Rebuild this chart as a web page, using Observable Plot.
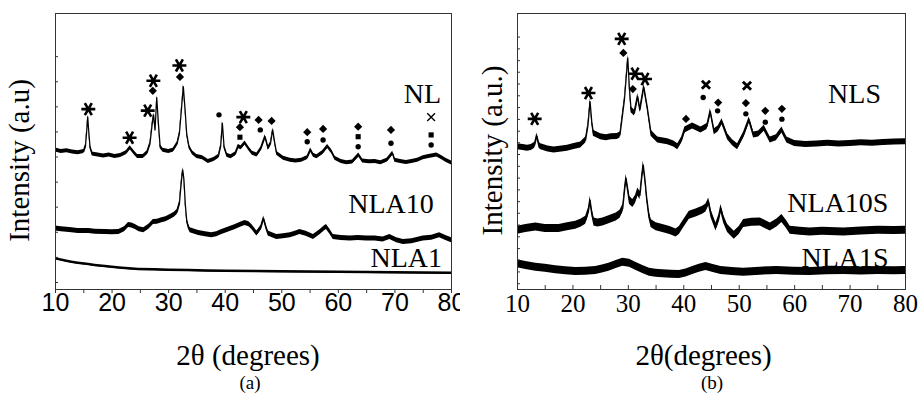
<!DOCTYPE html>
<html><head><meta charset="utf-8">
<script src="https://cdn.jsdelivr.net/npm/d3@7"></script>
<script src="https://cdn.jsdelivr.net/npm/@observablehq/plot@0.6"></script>
<style>
html,body{margin:0;padding:0;background:#fff;}
#wrap{display:flex;width:920px;height:394px;overflow:hidden;}
.panel{width:460px;height:394px;}
.panel svg{display:block;}
.cap{font-family:"Liberation Serif","Times New Roman",serif;font-size:19px;line-height:21px;height:22px;text-align:center;color:#000;}
</style></head><body>
<div id="wrap"><div class="panel" id="pa"></div><div class="panel" id="pb"></div></div>
<script>
// ---- Panel (a): [2θ in degrees, intensity a.u.] ----
const NL = [[10,55.6],[11,55],[12,55.3],[13,54.8],[14,54.5],[15,55],[15.3,57],[15.55,64],[15.7,68.8],[15.85,64],[16.1,57],[16.5,54],[17.5,53.6],[18.5,53.2],[19.5,53.6],[20.5,53],[21.5,53.4],[22.5,54.5],[23.2,56.5],[23.9,54.5],[24.5,53],[25.5,53],[26.2,54.5],[26.7,58],[27.1,66],[27.35,69.6],[27.6,63.6],[27.9,76.5],[28.2,66],[28.5,57],[29,55.5],[30,55],[30.8,55.5],[31.5,58],[31.9,62],[32.2,70],[32.6,80.9],[32.9,72],[33.2,62],[33.6,57],[34.2,54.5],[35,53],[36,52.5],[37,51],[38,51.8],[38.8,53],[39.2,57],[39.5,66.3],[39.8,57],[40.3,53.5],[41,52.9],[41.8,54],[42.3,57],[42.8,56.5],[43.5,58.4],[44.2,56],[44.8,54.3],[45.6,53.6],[46.3,56],[47.06,60.9],[47.6,56.3],[48,58],[48.4,63.6],[48.8,58],[49.1,54.3],[50.3,52.3],[51.5,51.5],[52.5,51.2],[53.5,51.5],[54.5,52.5],[55.1,55.6],[55.6,53.5],[56.2,52.9],[57.2,54.5],[58.1,57],[58.8,55],[59.4,52.3],[60.5,51],[61.5,50.5],[62.5,50.8],[63.6,53.6],[64.3,51.2],[65.5,50.9],[66.5,51],[67.5,50.5],[68.6,51.5],[69.6,54.3],[70,51.5],[71,51],[72,50.6],[73,51],[74,51.5],[75,52.5],[76,53],[77.4,53.6],[78.3,52.5],[79,51.5],[80,50.4]];
const NLA10 = [[10,24.3],[11,24],[12,23.8],[12.9,23.6],[14,23.3],[15.9,23.3],[17,23],[18.8,22.9],[20,22.8],[21.2,22.9],[22.2,24],[22.9,25.7],[23.5,25.5],[24.1,24.9],[24.8,24],[25.6,23.6],[26.5,25],[27.3,26.9],[28,27],[28.8,27.6],[29.5,28],[30.3,28.9],[31,29.8],[31.5,30.9],[31.9,34],[32.06,38.3],[32.3,44],[32.5,47.6],[32.7,44],[32.95,34],[33.2,27.6],[33.5,25],[33.8,23.6],[35.3,22.5],[36.5,22],[37.6,21.6],[38.5,22],[39.4,22.9],[40.5,23.8],[41.8,24.9],[42.7,25.8],[43.5,26.5],[44.2,26],[44.7,24.9],[45.6,22.3],[46.3,24.5],[46.8,28.3],[47.2,25],[47.6,22.3],[49.1,20.9],[50.3,21.2],[51.5,21.6],[52.5,22.3],[53.2,22.9],[54.3,22.2],[55.6,20.9],[56.8,22.9],[57.5,24.3],[57.9,24.9],[58.5,23],[59.1,20.9],[60.5,20.5],[62.1,20.3],[63.5,20.5],[65,20.3],[66.5,20.3],[67.9,19.9],[69.1,20.9],[70.3,19.6],[71.5,18.9],[73,19.2],[75,20.3],[76.5,20.6],[77.9,21.6],[79,20.5],[80,19.6]];
const NLA1 = [[10,12.3],[11,11.8],[12,11.3],[12.9,10.9],[14,10.5],[15.9,10],[17,9.6],[18.8,9.2],[20,8.9],[21.8,8.5],[23,8.3],[24.7,8],[27.6,7.9],[30,7.7],[33.5,7.6],[37,7.4],[40,7.3],[45.3,7.2],[50,7.1],[55,7],[60,6.9],[65,6.8],[70,6.7],[75,6.6],[80,6.5]];

// ---- Panel (b) ----
const NLS = [[10,56.9],[11,56.6],[11.8,56.3],[12.5,56.6],[13.1,57.5],[13.5,61.2],[13.9,57.5],[14.2,56.9],[15.5,56],[16.6,55.6],[18,56],[19,56.3],[20.2,57],[21.4,57.6],[22.3,59.6],[22.7,65],[23.1,74.9],[23.4,67],[23.7,62.3],[25,60.9],[26,60.5],[26.9,60.9],[28,61],[28.5,61.6],[29.3,75.6],[29.9,92.3],[30.2,80],[30.5,71.6],[31.1,70.3],[31.7,76.9],[32.1,71.6],[32.8,80.7],[33.4,72.9],[34.1,62.3],[35.3,59.6],[37.1,58.9],[38.2,58],[38.9,56.9],[39.6,59.5],[40.2,63.6],[41.6,65.2],[43.1,63.6],[44.2,65],[44.8,70.9],[45.5,62.9],[46.2,64],[46.9,66.9],[47.9,60.9],[48.8,58.5],[49.7,56.9],[50.8,61.6],[51.8,67.6],[52.6,61.6],[53.5,62],[54.5,64.3],[55.6,59.6],[56.7,60.5],[57.7,63.6],[58.6,59.6],[60,58.2],[62,57.8],[64,58],[66,58.3],[68,58],[70,58.2],[72,58.5],[74,58.3],[76,58.6],[78,58.8],[80,58.9]];
const NLA10S = [[10,23.6],[11.5,24.3],[13.3,24.9],[15,24.3],[17.5,24.3],[19,25],[20.5,25.6],[21.5,26.5],[22.3,27.6],[22.8,31],[23.1,35.6],[23.4,31],[23.8,26.9],[24.5,26.5],[25.4,26.9],[26.5,27.8],[27.8,28.9],[28.5,30],[29,32.3],[29.35,40],[29.6,44.3],[29.9,40],[30.2,35.6],[30.8,34.3],[31.3,36],[31.7,38.9],[32.1,37.5],[32.4,44],[32.7,49.6],[33,44],[33.3,36.9],[33.7,30],[34.1,26.3],[35,25],[36.2,24.3],[37.5,23.5],[38.6,22.5],[39.2,23.5],[39.8,25.6],[41,29.6],[42.2,30.5],[43.4,31.6],[44,32.5],[44.5,34.9],[44.9,30.3],[45.8,24.9],[46.3,28],[46.7,32.3],[47.2,28],[47.9,24.3],[49.1,21.6],[50,23.5],[50.8,26.3],[52.3,26.8],[53.8,26.9],[55.6,24.9],[56.8,26.5],[57.7,28.3],[58.5,26],[59.2,23.6],[61,23.2],[62.8,22.9],[65,23.2],[68.9,22.9],[72,23.3],[75,23.6],[78,23.5],[80,23.6]];
const NLA1S = [[10,10.3],[11.5,9.6],[13.3,8.9],[15,8.5],[16.9,7.9],[18.7,7.5],[20.5,7.2],[22.3,7.3],[24.1,7.6],[25.3,8.2],[26.5,8.9],[27.8,10],[29,10.9],[30.2,10.5],[31.4,9.2],[32.6,8],[33.8,6.9],[35,6.5],[36.2,6.3],[37.7,6.1],[39.2,6],[40.4,6.6],[41.6,7.6],[42.8,8.5],[44,9.2],[45.3,8.4],[46.7,7.6],[48.7,7.2],[50.8,6.9],[53.8,7.3],[56.8,7.6],[59.8,7.3],[62.8,7.2],[65.8,7.5],[68.9,7.6],[72,7.4],[75,7.6],[78,7.5],[80,7.6]];

// ---- Phase markers (2θ, height) ----
const starsA = [[15.8,71.9],[23.1,60.5],[26.3,71.3],[27.3,83.2],[31.9,89.3],[43.2,68.7]];
const diamondsA = [[27.2,79.2],[32.0,84.7],[42.6,64.7],[45.9,67.6],[48.2,67.2],[54.5,62.7],[57.3,64],[63.5,64.9],[69.3,63.6]];
const dotsA = [[38.9,69.6],[46.2,63.6],[54.5,58.9],[57.3,59.6],[63.5,56.9],[69.3,58.3],[76.4,57.6]];
const squaresA = [[42.6,60.7],[63.5,60.9],[76.4,61.6]];
const crossesA = [[76.4,68.7]];

const starsB = [[13.1,68],[22.8,78.3],[28.8,99.9],[31.2,86],[33.0,83.9]];
const diamondsB = [[29.1,94.3],[30.8,79.9],[40.4,68],[46.2,74.5],[51.2,74.3],[54.7,71.2],[57.7,72]];
const dotsB = [[43.5,76.5],[46.1,71.2],[51.2,70],[54.7,66.7],[57.7,67.9]];
const crossesB = [[44.0,81.6],[51.4,81.2]];

// ---- Ticks and labels ----
const xTicks = [10,15,20,25,30,35,40,45,50,55,60,65,70,75,80];
const xLabels = [10,20,30,40,50,60,70,80];
const yTicksA = [2.8,12.8,22.8,32.8,42.8,52.8,62.8,72.8,82.8,92.8];
const yTicksB = [2.3,7,11.7,16.3,21,25.7,30.4,35,39.7,44.4,49.1,53.8,58.5,63.1,67.8,72.5,77.2,81.9,86.6,91.2,95.9,100.6];
const namesA = [{t:"NL",x:74.85,y:78},{t:"NLA10",x:69.3,y:34},{t:"NLA1",x:72.0,y:12.4}];
const namesB = [{t:"NLS",x:70.8,y:78},{t:"NLA10S",x:67.8,y:34.6},{t:"NLA1S",x:69.1,y:12.4}];

const SERIF = "'Liberation Serif', 'Times New Roman', serif";
const SANS = "'Liberation Sans', Arial, sans-serif";
const X = d => d[0], Y = d => d[1];

function curve(data, n) {
  return [
    Plot.areaY(data, {x: X, y1: d => d[1] - n, y2: d => d[1] + n, fill: "#000"}),
    Plot.line(data, {x: X, y: Y, stroke: "#000", strokeWidth: 1.2})
  ];
}

function panel(o) {
  const marks = [];
  o.series.forEach(s => marks.push(...curve(s.data, s.n)));
  marks.push(
    Plot.dot(o.stars, {x: X, y: Y, symbol: "asterisk", r: 6.6, rotate: 90, stroke: "#000", strokeWidth: 2.6}),
    Plot.dot(o.diamonds, {x: X, y: Y, symbol: "diamond2", r: 3.7, fill: "#000", stroke: "none"}),
    Plot.dot(o.dots, {x: X, y: Y, symbol: "circle", r: 2.7, fill: "#000", stroke: "none"}),
    Plot.dot(o.squares || [], {x: X, y: Y, symbol: "square", r: 2.9, fill: "#000", stroke: "none"}),
    Plot.dot(o.crosses, {x: X, y: Y, symbol: "times", r: o.crossR, stroke: "#000", strokeWidth: o.crossW}),
    Plot.text(o.names, {x: "x", y: "y", text: "t", fontSize: 28, fontFamily: SERIF, textAnchor: "middle", lineAnchor: "middle", fill: "#000"}),
    Plot.frame({stroke: "#333", strokeWidth: 1}),
    Plot.axisY({ticks: o.yTicks, tickSize: -3, tickFormat: () => "", label: null, stroke: "#333"}),
    Plot.axisX({ticks: xTicks, tickSize: o.xTickSize, tickFormat: () => "", label: null, stroke: "#333"}),
    Plot.axisX({ticks: xLabels, tickSize: 0, tickPadding: o.tickPad, fontSize: o.tickFontSize, fontFamily: o.tickFont, label: null, fill: "#000"}),
    Plot.text([o.xtitle], {frameAnchor: "bottom", textAnchor: "middle", lineAnchor: "middle", dx: o.xdx, dy: 66, fontSize: 29, fontFamily: SERIF, fill: "#000"}),
    Plot.text([o.ytitle], {frameAnchor: "left", textAnchor: "middle", lineAnchor: "middle", rotate: -90, dx: o.ydx, dy: o.ydy, fontSize: 29, fontFamily: SERIF, fill: "#000"})
  );
  return Plot.plot({
    width: 460, height: 372,
    marginTop: 13, marginBottom: 83, marginLeft: o.ml, marginRight: o.mr,
    x: {domain: [10, 80]},
    y: {domain: [0, 110]},
    style: {background: "#fff", overflow: "visible", color: "#000"},
    marks
  });
}

const a = panel({
  series: [{data: NL, n: 0.8}, {data: NLA10, n: 1.0}, {data: NLA1, n: 0.5}],
  stars: starsA, diamonds: diamondsA, dots: dotsA, squares: squaresA, crosses: crossesA,
  crossR: 3.6, crossW: 1.4,
  names: namesA, yTicks: yTicksA, ml: 55, mr: 9,
  xTickSize: 4, tickPad: 4, tickFontSize: 25, tickFont: SANS,
  xtitle: "2θ (degrees)", xdx: -5.5, ytitle: "Intensity (a.u)", ydx: -36, ydy: 9
});
const b = panel({
  series: [{data: NLS, n: 1.2}, {data: NLA10S, n: 1.6}, {data: NLA1S, n: 1.6}],
  stars: starsB, diamonds: diamondsB, dots: dotsB, squares: [], crosses: crossesB,
  crossR: 3.8, crossW: 2.8,
  names: namesB, yTicks: yTicksB, ml: 57, mr: 15,
  xTickSize: -4, tickPad: 5, tickFontSize: 25, tickFont: SERIF,
  xtitle: "2θ(degrees)", xdx: -8, ytitle: "Intensity (a.u.)", ydx: -25, ydy: -1
});
const pa = document.getElementById("pa"), pb = document.getElementById("pb");
pa.appendChild(a);
pb.appendChild(b);
const ca = document.createElement("div"); ca.className = "cap"; ca.textContent = "(a)"; ca.style.paddingLeft = "40px"; pa.appendChild(ca);
const cb = document.createElement("div"); cb.className = "cap"; cb.textContent = "(b)"; cb.style.paddingLeft = "44px"; pb.appendChild(cb);
</script>
</body></html>
